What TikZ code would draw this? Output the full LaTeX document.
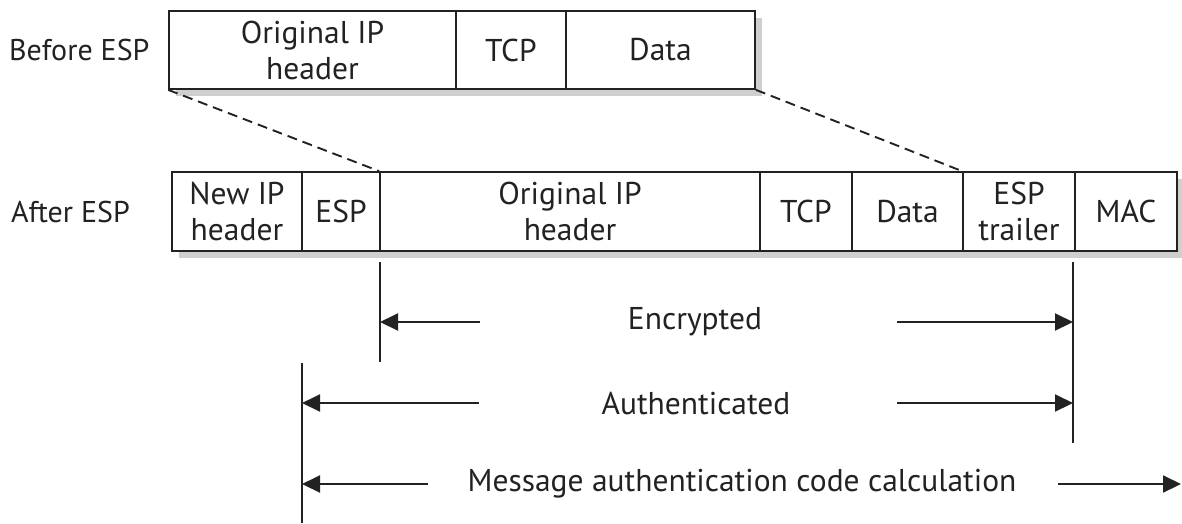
\documentclass[tikz,border=0pt]{standalone}
\usepackage{fontspec}
\setmainfont{PT Sans}
\usetikzlibrary{arrows.meta}
\definecolor{framegray}{HTML}{222222}
\definecolor{shadowgray}{HTML}{CFCFCF}
\begin{document}
\begin{tikzpicture}[x=1pt,y=-1pt,
  txt/.style={font=\fontsize{31.5}{36}\selectfont, text=framegray, inner sep=0pt},
  cell/.style={txt, draw=framegray, line width=1.7pt, fill=white, align=center},
  toprow/.style={cell, minimum height=78pt},
  botrow/.style={cell, minimum height=79pt},
  shade/.style={fill=shadowgray},
  guide/.style={draw=framegray, line width=1.9pt, dash pattern=on 10pt off 6pt},
  bar/.style={draw=framegray, line width=2pt},
  span/.style={draw=framegray, line width=2pt, -{Triangle[length=18pt,width=17pt]}}]
\useasboundingbox (0,0) rectangle (1182,523);

% drop shadows of the two packet rows
\path[shade] (176,18) rectangle (762,96);
\path[shade] (179,179) rectangle (1184,258);

% packet before ESP
\node[toprow, minimum width=287pt] (oipA)  at (312.5,50) {Original IP\\header};
\node[toprow, minimum width=110pt] (tcpA)  at (511,50)   {TCP};
\node[toprow, minimum width=189pt] (dataA) at (660.5,50) {Data};
\node[txt, anchor=west, font=\fontsize{30}{36}\selectfont] (before) at (9,50) {Before ESP};

% packet after ESP
\node[botrow, minimum width=130pt] (nip)   at (237,211.5)   {New IP\\header};
\node[botrow, minimum width=78pt]  (esp)   at (341,211.5)   {ESP};
\node[botrow, minimum width=380pt] (oipB)  at (570,211.5)   {Original IP\\header};
\node[botrow, minimum width=92pt]  (tcpB)  at (806,211.5)   {TCP};
\node[botrow, minimum width=111pt] (dataB) at (907.5,211.5) {Data};
\node[botrow, minimum width=112pt] (trl)   at (1019,211.5)  {ESP\\trailer};
\node[botrow, minimum width=102pt] (mac)   at (1126,211.5)  {MAC};
\node[txt, anchor=west, font=\fontsize{30}{36}\selectfont] (after) at (11,212) {After ESP};

% where the original packet ends up
\draw[guide] (oipA.south west) -- (oipB.north west);
\draw[guide] (dataA.south east) -- (trl.north west);

% extent markers
\coordinate (encTop) at (380,262);  \coordinate (encBot) at (380,362);
\coordinate (authTop) at (1073,262); \coordinate (authBot) at (1073,443);
\coordinate (macTop) at (302,363);  \coordinate (macBot) at (302,523);
\draw[bar] (encTop) -- (encBot);
\draw[bar] (authTop) -- (authBot);
\draw[bar] (macTop) -- (macBot);

% encrypted range
\node[txt] (enc) at (695,322) {Encrypted};
\coordinate (encL0) at (480,322);  \coordinate (encL1) at (380,322);
\coordinate (encR0) at (897,322);  \coordinate (encR1) at (1073,322);
\draw[span] (encL0) -- (encL1);
\draw[span] (encR0) -- (encR1);

% authenticated range
\node[txt] (auth) at (696,403) {Authenticated};
\coordinate (authL0) at (479,403); \coordinate (authL1) at (302,403);
\coordinate (authR0) at (897,403); \coordinate (authR1) at (1073,403);
\draw[span] (authL0) -- (authL1);
\draw[span] (authR0) -- (authR1);

% MAC calculation range
\node[txt] (macc) at (742,484) {Message authentication code calculation};
\coordinate (macL0) at (428,484); \coordinate (macL1) at (302,484);
\coordinate (macR0) at (1058,484); \coordinate (macR1) at (1181,484);
\draw[span] (macL0) -- (macL1);
\draw[span] (macR0) -- (macR1);
\end{tikzpicture}
\end{document}
